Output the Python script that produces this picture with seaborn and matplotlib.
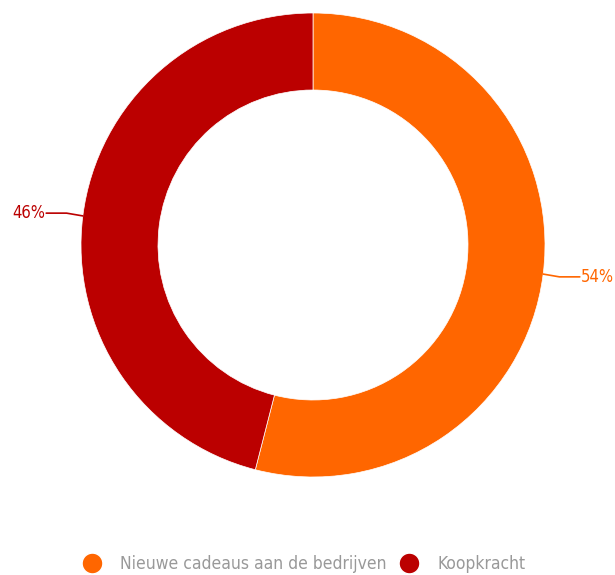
import numpy as np
import matplotlib
matplotlib.use("Agg")
import matplotlib.pyplot as plt
import seaborn as sns

categories = ["Nieuwe cadeaus aan de bedrijven", "Koopkracht"]
values = [54, 46]
colors = ["#FF6600", "#BB0000"]

sns.set_theme(style="white")
plt.rcParams['font.family'] = ['DejaVu Sans']
plt.rcParams['font.stretch'] = 'condensed'

W, H = 615, 575
fig = plt.figure(figsize=(W / 100, H / 100), dpi=100)
ax = fig.add_axes([0, 0, 1, 1])
cx, cy, R = 313, 245, 232

wedges, _ = ax.pie(values, colors=colors, startangle=90, counterclock=False,
                   radius=1, center=(0, 0),
                   wedgeprops=dict(width=77 / 232, edgecolor='white', linewidth=0.5))
ax.set_xlim(-cx / R, (W - cx) / R)
ax.set_ylim(-(H - cy) / R, cy / R)
ax.set_aspect('equal')
ax.axis('off')

for w, v, c in zip(wedges, values, colors):
    ang = np.deg2rad((w.theta1 + w.theta2) / 2)
    x0, y0 = np.cos(ang), np.sin(ang)
    side = 1 if x0 > 0 else -1
    y1 = y0 - 0.012 * side
    x1 = x0 + side * 0.07
    x2 = side * 1.15
    ax.plot([x0, x1, x2], [y0, y1, y1], color=c, lw=1.2, clip_on=False)
    ax.text(x2 + side * 0.005, y1, f"{v}%", color=c, fontsize=12,
            ha='left' if side > 0 else 'right', va='center')

handles = [plt.Line2D([0], [0], marker='o', color='w', markerfacecolor=c,
                      markersize=15, linestyle='') for c in colors]
fig.legend(handles, categories, loc='center', bbox_to_anchor=(0.488, 1 - 564 / H),
           ncol=2, frameon=False, fontsize=12.5, labelcolor='#999999',
           handletextpad=0.6, columnspacing=0.3)

fig.savefig("out.png", dpi=100)
